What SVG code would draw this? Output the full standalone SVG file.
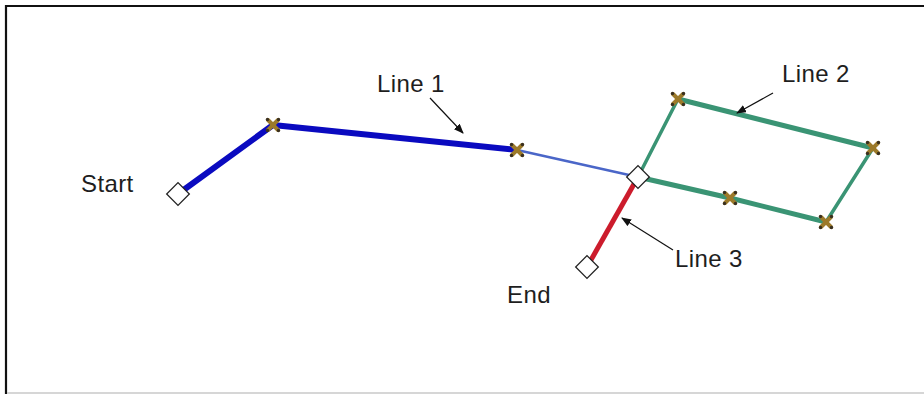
<svg xmlns="http://www.w3.org/2000/svg" width="924" height="394" viewBox="0 0 924 394">
<style>
.lbl{font-family:"Liberation Sans",Arial,sans-serif;font-size:24px;letter-spacing:0.4px;fill:#1e1e1e}
.dia{fill:#fff;stroke:#222;stroke-width:1.3}
.vx line{stroke:#9c7a2a;stroke-width:4;stroke-linecap:round}
.vx circle{fill:#3a3020}
.ptr{stroke:#111;stroke-width:1.2;fill:none;marker-end:url(#ah)}
.blue{stroke:#0a0ac0;stroke-width:6;fill:none;stroke-linejoin:round}
.lblue{stroke:#4a66c8;stroke-width:2.5;fill:none}
.green{stroke:#3a9474;fill:none;stroke-linecap:round}
.red{stroke:#cc1c2c;stroke-width:5;fill:none}
</style>
<defs>
<marker id="ah" viewBox="0 0 10 8" refX="9" refY="4" markerWidth="10" markerHeight="8" markerUnits="userSpaceOnUse" orient="auto">
<path d="M0,0 L10,4 L0,8 Z" fill="#111"/>
</marker>
<g id="xm" class="vx">
<line x1="-5" y1="-5" x2="5" y2="5"/>
<line x1="-5" y1="5" x2="5" y2="-5"/>
<circle cx="-5.5" cy="-5.5" r="1.7"/><circle cx="5.5" cy="5.5" r="1.7"/>
<circle cx="-5.5" cy="5.5" r="1.7"/><circle cx="5.5" cy="-5.5" r="1.7"/>
</g>
</defs>
<rect width="924" height="394" fill="#fff"/>
<g id="frame">
<line x1="5" y1="6" x2="924" y2="6" stroke="#111" stroke-width="2.2"/>
<line x1="6" y1="5" x2="6" y2="394" stroke="#111" stroke-width="2.2"/>
<line x1="7" y1="393" x2="924" y2="393" stroke="#c8c8c8" stroke-width="1.5"/>
</g>
<g id="connectors">
<polyline class="blue" points="178,194 273,125 517,150"/>
<line class="lblue" x1="517" y1="150" x2="638" y2="177"/>
<line class="green" stroke-width="3.5" x1="638" y1="177" x2="678" y2="99"/>
<line class="green" stroke-width="5" x1="678" y1="99" x2="873" y2="148"/>
<line class="green" stroke-width="3.5" x1="873" y1="148" x2="826" y2="222"/>
<polyline class="green" stroke-width="5" points="826,222 730,198 638,177"/>
<line class="red" x1="638" y1="177" x2="587" y2="267"/>
<line class="ptr" x1="430" y1="98" x2="463" y2="133"/>
<line class="ptr" x1="773" y1="93" x2="737" y2="113"/>
<line class="ptr" x1="673" y1="250" x2="622" y2="218"/>
</g>
<g id="start"><rect class="dia" x="170" y="186" width="16" height="16" transform="rotate(45 178 194)"/><text class="lbl" x="81" y="192">Start</text></g>
<g id="v1"><use href="#xm" x="273" y="125"/></g>
<g id="v2"><use href="#xm" x="517" y="150"/></g>
<g id="junction"><rect class="dia" x="630" y="169" width="16" height="16" transform="rotate(45 638 177)"/></g>
<g id="v3"><use href="#xm" x="678" y="99"/></g>
<g id="v4"><use href="#xm" x="873" y="148"/></g>
<g id="v5"><use href="#xm" x="826" y="222"/></g>
<g id="v6"><use href="#xm" x="730" y="198"/></g>
<g id="end"><rect class="dia" x="579" y="259" width="16" height="16" transform="rotate(45 587 267)"/><text class="lbl" x="507" y="303">End</text></g>
<g id="line1"><text class="lbl" x="377" y="92">Line 1</text></g>
<g id="line2"><text class="lbl" x="782" y="82">Line 2</text></g>
<g id="line3"><text class="lbl" x="675" y="267">Line 3</text></g>
</svg>
